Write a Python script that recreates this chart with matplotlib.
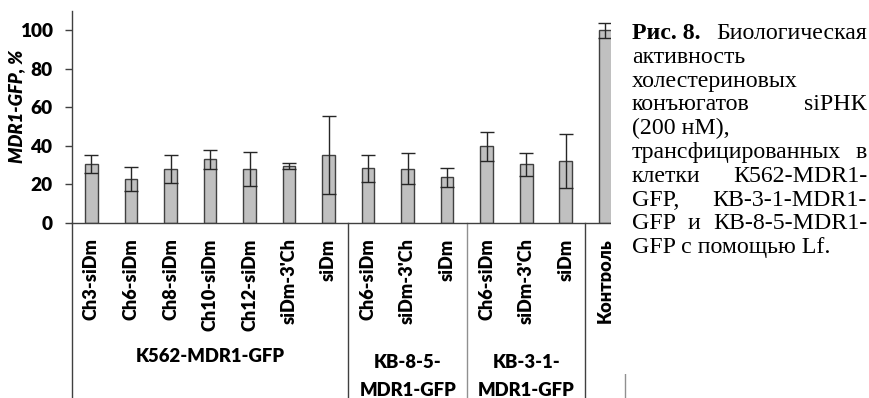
import numpy as np
import matplotlib
matplotlib.use('Agg')
import matplotlib.pyplot as plt
import matplotlib.transforms as mtransforms
from matplotlib.patches import Rectangle

# --- данные ---
labels = ['Ch3-siDm', 'Ch6-siDm', 'Ch8-siDm', 'Ch10-siDm', 'Ch12-siDm', "siDm-3'Ch", 'siDm',
          'Ch6-siDm', "siDm-3'Ch", 'siDm',
          'Ch6-siDm', "siDm-3'Ch", 'siDm',
          'Контроль']
values = [30.5, 23.0, 28.0, 33.0, 28.0, 29.4, 35.3, 28.3, 28.1, 23.7, 39.8, 30.5, 32.2, 100.0]
errors = [4.8, 6.2, 7.3, 5.0, 8.8, 1.5, 20.0, 7.0, 8.0, 4.8, 7.4, 6.0, 14.0, 4.0]
group_names = [['K562-MDR1-GFP'], ['KB-8-5-', 'MDR1-GFP'], ['KB-3-1-', 'MDR1-GFP']]
group_sizes = [7, 3, 3, 1]

cap_lines = [
    [('Рис. 8.', 'bold'), ('Биологическая', 'normal')],
    [('активность', 'normal')],
    [('холестериновых', 'normal')],
    [('конъюгатов', 'normal'), ('siРНК', 'normal')],
    [('(200 нМ),', 'normal')],
    [('трансфицированных', 'normal'), ('в', 'normal')],
    [('клетки', 'normal'), ('К562-MDR1-', 'normal')],
    [('GFP,', 'normal'), ('КВ-3-1-MDR1-', 'normal')],
    [('GFP', 'normal'), ('и', 'normal'), ('КВ-8-5-MDR1-', 'normal')],
    [('GFP с помощью Lf.', 'normal')],
]
cap_just = [True, False, False, True, False, True, True, True, True, False]

W, H = 869, 398
fig = plt.figure(figsize=(W / 100, H / 100), dpi=100)
SANS = ['Lato', 'DejaVu Sans']
WT = 'heavy'

ax = fig.add_axes([71.7 / W, 1 - 223 / H, (625 - 71.7) / W, (223 - 11) / H])
x = np.arange(len(values))
ax.bar(x, values, width=0.32, color='#C0C0C0', edgecolor='#404040', linewidth=1,
       yerr=errors, error_kw=dict(ecolor='#262626', capsize=5, elinewidth=1, capthick=1))
ax.set_xlim(-0.5, len(values) - 0.5)
ax.set_ylim(0, 110)
ax.set_yticks(np.arange(0, 101, 20))
ax.spines['top'].set_visible(False)
ax.spines['right'].set_visible(False)
for s in ['left', 'bottom']:
    ax.spines[s].set_color('#404040')
    ax.spines[s].set_linewidth(1)
ax.tick_params(axis='y', length=4.8, width=1, color='#404040', pad=9)
for t in ax.get_yticklabels():
    t.set_fontfamily(SANS)
    t.set_fontweight(WT)
    t.set_fontsize(13.7)
ax.set_xticks(x)
ax.set_xticklabels(labels, rotation=90, va='top', ha='center', family=SANS,
                   fontweight=WT, fontsize=13.1)
ax.tick_params(axis='x', length=0, pad=11)

ax.set_ylabel('MDR1-GFP, %', family=SANS, fontweight=WT, style='italic', fontsize=13.2)
ax.yaxis.set_label_coords(-0.0845, (223 - 106) / 212)

# разделители групп
trans = mtransforms.blended_transform_factory(ax.transData, ax.transAxes)
bounds = np.concatenate([[-0.5], np.cumsum(group_sizes) - 0.5])
sep_colors = ['#404040', '#404040', '#909090', '#404040', '#909090']
for b, c in zip(bounds, sep_colors):
    ax.plot([b, b], [0, -0.85], transform=trans, clip_on=False, color=c, lw=1)

for i, names in enumerate(group_names):
    cx = (bounds[i] + bounds[i + 1]) / 2
    if len(names) == 1:
        ys = [357]
    else:
        ys = [363, 390]
    for nm, yy in zip(names, ys):
        ax.text(cx, -(yy - 223) / 212, nm, transform=trans, ha='center', va='center',
                family=SANS, fontweight=WT, fontsize=13.3)

# подпись справа
fig.patches.append(Rectangle((611 / W, 1 - 374 / H), 1, 374 / H, transform=fig.transFigure,
                             facecolor='white', edgecolor='none', zorder=10))
fig.canvas.draw()
r = fig.canvas.get_renderer()
x_left, x_right = 632, 867
for i, (words, just) in enumerate(zip(cap_lines, cap_just)):
    yy = 1 - (39 + i * 23.8) / H
    txts = [fig.text(0, yy, w, fontweight=wt, family='Liberation Serif', fontsize=17.2,
                     va='baseline', ha='left', zorder=11) for w, wt in words]
    widths = [t.get_window_extent(r).width for t in txts]
    if just and len(txts) > 1:
        gap = (x_right - x_left - sum(widths)) / (len(txts) - 1)
    else:
        gap = 5
    pos = x_left
    for t, w in zip(txts, widths):
        t.set_x(pos / W)
        pos += w + gap

fig.savefig('out.png', dpi=100)
